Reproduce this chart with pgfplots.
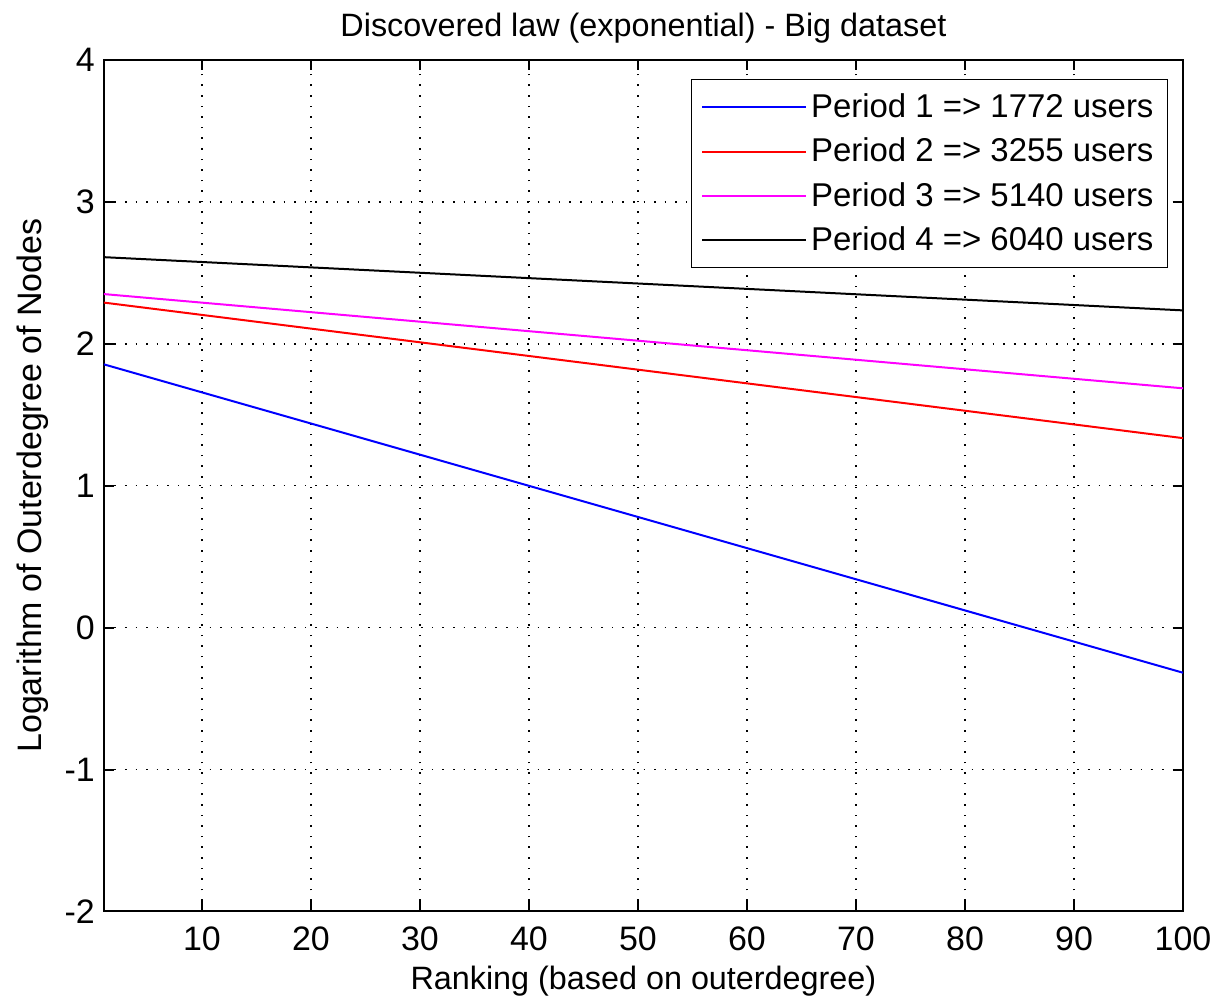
\documentclass[border=0pt]{standalone}
\usepackage{fontspec}
\setmainfont{Liberation Sans}
\usepackage{pgfplots}
\pgfplotsset{compat=1.18}
\definecolor{mmag}{RGB}{255,0,255}
\begin{document}
\begin{tikzpicture}
\begin{axis}[
  scale only axis, width=540.5pt, height=426.5pt,
  xmin=1, xmax=100, ymin=-2, ymax=4,
  xtick={10,20,...,100}, ytick={-2,-1,...,4},
  tick align=inside, major tick length=5pt,
  tick style={black, line width=1pt},
  axis line style={black, line width=1pt},
  grid=major, grid style={black, line width=0.8pt, dash pattern=on 0.8pt off 4.5pt},
  /pgf/number format/assume math mode=true,
  ticklabel style={font=\fontsize{17}{20}\selectfont},
  xticklabel style={yshift=-4pt},
  yticklabel style={xshift=-1pt},
  every axis title shift=0pt,
  title style={font=\fontsize{16.2}{19}\selectfont, at={(axis description cs:0.5,1)}, anchor=center, yshift=16pt},
  title={Discovered law (exponential) - Big dataset},
  xlabel={Ranking (based on outerdegree)},
  ylabel={Logarithm of Outerdegree of Nodes},
  xlabel style={font=\fontsize{16.2}{19}\selectfont, at={(axis description cs:0.5,-0.0821)}, anchor=center},
  ylabel style={font=\fontsize{17}{20}\selectfont, at={(axis description cs:-0.0657,0.5)}, anchor=center},
  legend style={at={(0.986,0.977)}, anchor=north east,
    font=\fontsize{16.5}{19}\selectfont, row sep=4.7pt, inner xsep=5pt, inner ysep=5pt},
  legend cell align=left,
  legend image code/.code={\draw[mark repeat=2,mark phase=2,#1] plot coordinates {(0pt,0pt) (26pt,0pt) (52pt,0pt)};},
]
\addplot[color=blue, line width=1pt] coordinates {(1,1.855) (100,-0.318)};
\addlegendentry{Period 1 => 1772 users}
\addplot[color=red, line width=1pt] coordinates {(1,2.29) (100,1.335)};
\addlegendentry{Period 2 => 3255 users}
\addplot[color=mmag, line width=1pt] coordinates {(1,2.35) (100,1.686)};
\addlegendentry{Period 3 => 5140 users}
\addplot[color=black, line width=1pt] coordinates {(1,2.61) (100,2.235)};
\addlegendentry{Period 4 => 6040 users}
\end{axis}
\path (current axis.south west) ++(-52pt,-44.5pt) coordinate (bbA);
\path (current axis.north east) ++(16.5pt,30pt) coordinate (bbB);
\path (bbA) rectangle (bbB);
\end{tikzpicture}
\end{document}
